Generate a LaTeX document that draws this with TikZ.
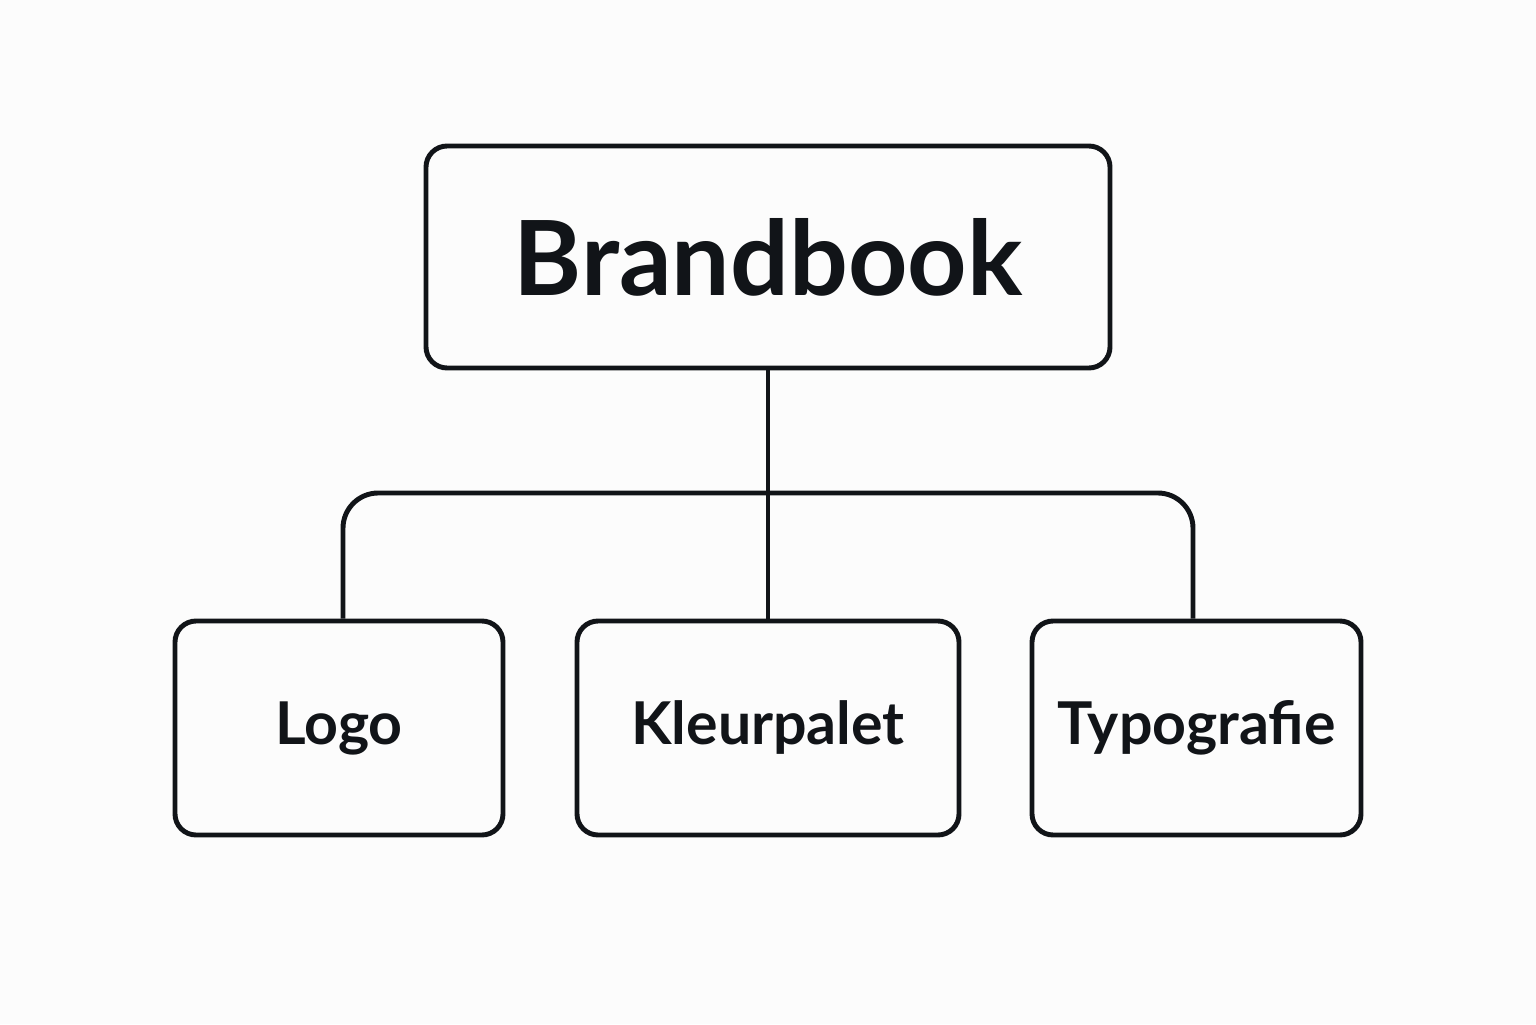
\documentclass[tikz,border=0pt]{standalone}
\usepackage{fontspec}
\setmainfont{Lato}
\usetikzlibrary{positioning}
\definecolor{ink}{HTML}{111418}

\begin{document}
\begin{tikzpicture}[line width=1.4pt,draw=ink,
    box/.style={draw=ink,rounded corners=6pt,inner sep=0pt,text=ink,font=\bfseries\fontsize{16.8}{20}\selectfont},
    topbox/.style={box,minimum width=6.84cm,minimum height=2.22cm,font=\bfseries\fontsize{29.5}{34}\selectfont}]
    \fill[white!99!black] (0,0) rectangle (15.36,10.24);
    \useasboundingbox (0,0) rectangle (15.36,10.24);
    \node[topbox] (brand) at (7.68,7.67) {Brandbook};
    \node[box,minimum width=3.28cm,minimum height=2.14cm] (logo) at (3.39,2.96) {Logo};
    \node[box,minimum width=3.82cm,minimum height=2.14cm] (kleur) at (7.68,2.96) {Kleurpalet};
    \node[box,minimum width=3.29cm,minimum height=2.14cm] (typo) at (11.965,2.96) {Typografie};
    \coordinate (junctionL) at (3.43,5.31);
    \coordinate (junctionR) at (11.93,5.31);
    \draw[ink] (brand.south) -- (kleur.north);
    \draw[ink,rounded corners=10pt] (logo.north -| junctionL) -- (junctionL) -- (junctionR) -- (typo.north -| junctionR);
\end{tikzpicture}
\end{document}
